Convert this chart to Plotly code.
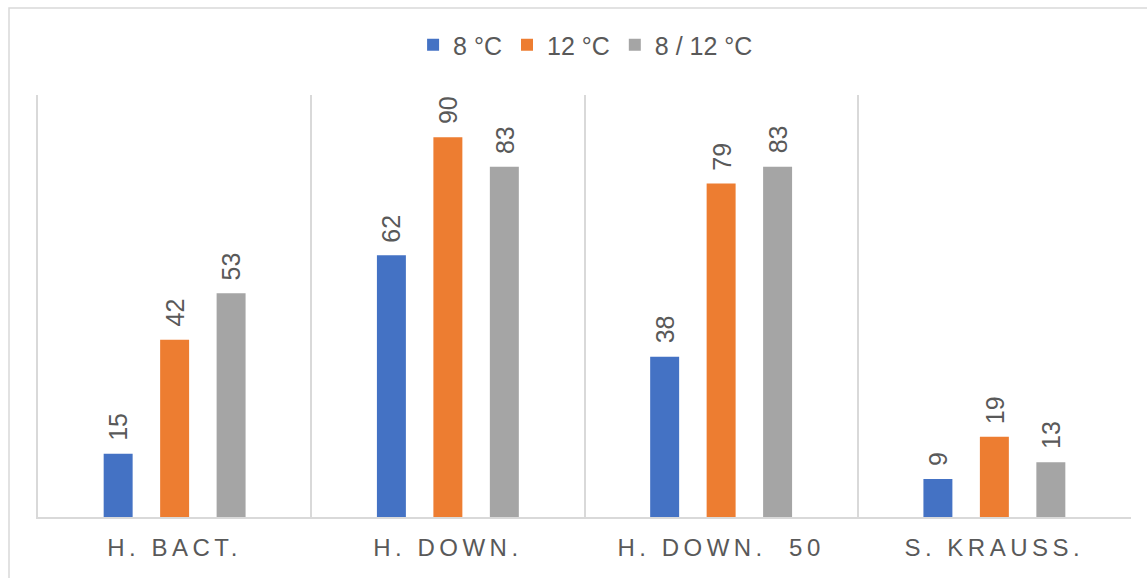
import plotly.graph_objects as go

# Category names and series values
categories = ["H. BACT.", "H. DOWN.", "H. DOWN.  50", "S. KRAUSS."]
series_names = ["8 °C", "12 °C", "8 / 12 °C"]
values_8 = [15, 62, 38, 9]
values_12 = [42, 90, 79, 19]
values_8_12 = [53, 83, 83, 13]

colors = ["#4472C4", "#ED7D31", "#A5A5A5"]
text_color = "#595959"
line_color = "#D9D9D9"
font_family = "Liberation Sans, Arial, sans-serif"

W, H = 1147, 578
margin = dict(l=38, r=16, t=95, b=61)
bargap = 0.38
bargroupgap = 0.487

fig = go.Figure()
all_values = [values_8, values_12, values_8_12]
for name, vals, col in zip(series_names, all_values, colors):
    fig.add_trace(go.Bar(
        name=name, x=categories, y=vals,
        marker=dict(color=col, line=dict(width=0)),
    ))

# Rotated value labels above each bar
plot_w = W - margin["l"] - margin["r"]
cat_px = plot_w / len(categories)
slot_px = cat_px * (1 - bargap) / len(series_names)
annotations = []
for i, vals in enumerate(all_values):
    offset = (i - (len(series_names) - 1) / 2) * slot_px
    for cat, v in zip(categories, vals):
        annotations.append(dict(
            x=cat, y=v, xref="x", yref="y", text=str(v),
            textangle=-90, showarrow=False,
            xanchor="center", yanchor="bottom",
            xshift=offset, yshift=11,
            font=dict(size=25, color=text_color, family=font_family),
        ))

# Light frame around the chart area
plot_h = H - margin["t"] - margin["b"]
frame = dict(
    type="rect", xref="paper", yref="paper",
    x0=(9 - margin["l"]) / plot_w, x1=(W + 20 - margin["l"]) / plot_w,
    y0=-(margin["b"] + 20) / plot_h, y1=(H - margin["b"] - 8) / plot_h,
    line=dict(color=line_color, width=1.5), fillcolor="rgba(0,0,0,0)",
    layer="below",
)

tick_text = ['<span style="letter-spacing:4.5px">%s</span>' % c for c in categories]

fig.update_layout(
    width=W, height=H, margin=margin,
    paper_bgcolor="white", plot_bgcolor="white",
    barmode="group", bargap=bargap, bargroupgap=bargroupgap,
    font=dict(family=font_family, color=text_color, size=24),
    legend=dict(
        orientation="h", x=0.501, xanchor="center",
        y=(H - margin["b"] - 45) / plot_h, yanchor="middle",
        font=dict(size=25, color=text_color), itemwidth=30,
        traceorder="normal",
    ),
    annotations=annotations,
    shapes=[frame],
    xaxis=dict(
        type="category", tickson="boundaries",
        showgrid=True, gridcolor=line_color, gridwidth=1.5,
        showline=True, linecolor=line_color, linewidth=1.5,
        ticks="", tickvals=categories, ticktext=tick_text,
        tickfont=dict(size=24, color=text_color),
        ticklabelstandoff=8,
    ),
    yaxis=dict(
        range=[0, 100], showgrid=False, zeroline=False,
        showticklabels=False, ticks="",
        showline=True, linecolor=line_color, linewidth=1.5,
    ),
)

fig.write_html("out.html")
